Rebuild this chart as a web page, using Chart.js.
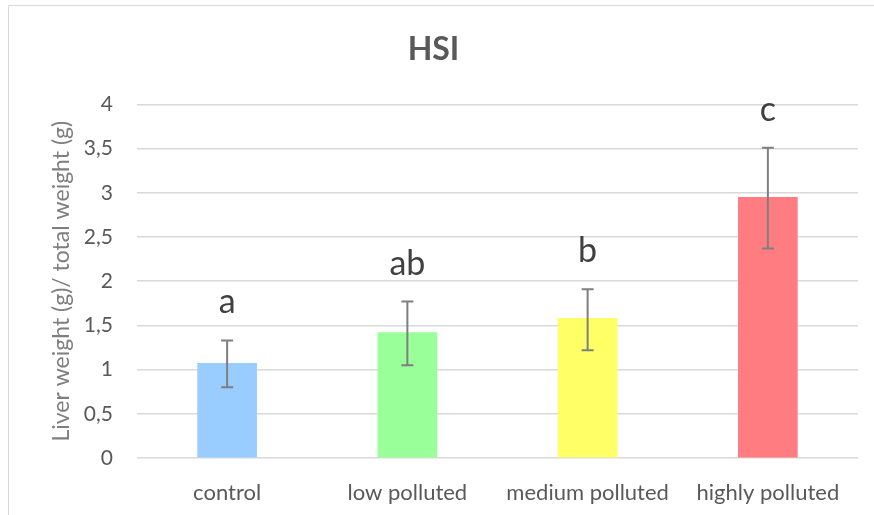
<!DOCTYPE html>
<html>
<head>
<meta charset="utf-8">
<script src="https://cdn.jsdelivr.net/npm/chart.js@4"></script>
<style>
  html, body { margin: 0; padding: 0; background: #fff; overflow: hidden; }
  #box { position: absolute; left: 8px; top: 5px; width: 876px; height: 520px; border: 1px solid #d9d9d9; }
</style>
</head>
<body>
<div id="box"><canvas id="hsi" width="876" height="520"></canvas></div>
<script>
var groups = ["control", "low polluted", "medium polluted", "highly polluted"];
var hsi = [1.07, 1.42, 1.58, 2.95];
var errLow = [0.80, 1.05, 1.22, 2.37];
var errHigh = [1.33, 1.77, 1.91, 3.51];
var letters = ["a", "ab", "b", "c"];
var colors = ["#99ccff", "#99ff99", "#ffff66", "#ff7c80"];

var fnt = "Lato, 'Open Sans', sans-serif";

// error bars + significance letters
var extras = {
  id: 'extras',
  afterDatasetsDraw: function(chart) {
    var ctx = chart.ctx, y = chart.scales.y;
    var bars = chart.getDatasetMeta(0).data;
    ctx.save();
    bars.forEach(function(b, i) {
      var top = y.getPixelForValue(errHigh[i]);
      var bot = y.getPixelForValue(errLow[i]);
      ctx.strokeStyle = '#7f7f7f';
      ctx.lineWidth = 2;
      ctx.beginPath();
      ctx.moveTo(b.x, top); ctx.lineTo(b.x, bot);
      ctx.moveTo(b.x - 6, top); ctx.lineTo(b.x + 6, top);
      ctx.moveTo(b.x - 6, bot); ctx.lineTo(b.x + 6, bot);
      ctx.stroke();
      ctx.fillStyle = '#404040';
      ctx.font = '34px ' + fnt;
      ctx.textAlign = 'center';
      ctx.textBaseline = 'alphabetic';
      ctx.fillText(letters[i], b.x, top - 27);
    });
    ctx.restore();
  }
};

new Chart(document.getElementById("hsi"), {
  type: 'bar',
  data: {
    labels: groups,
    datasets: [{
      data: hsi,
      backgroundColor: colors,
      barThickness: 59
    }]
  },
  options: {
    responsive: false,
    animation: false,
    layout: { padding: { left: 0, right: 27, top: 0, bottom: 0 } },
    plugins: {
      legend: { display: false },
      tooltip: { enabled: false },
      title: {
        display: true,
        text: 'HSI',
        color: '#595959',
        font: { family: fnt, size: 32, weight: 'bold' },
        padding: { top: 24, bottom: 36 }
      }
    },
    scales: {
      x: {
        grid: { display: false },
        border: { display: false },
        ticks: { color: '#595959', font: { family: fnt, size: 22 }, padding: 14, maxRotation: 0 },
        afterFit: function(s) { s.height = 68; }
      },
      y: {
        min: 0, max: 4,
        grid: { color: '#d9d9d9', lineWidth: 1.5, drawTicks: false },
        border: { display: false },
        ticks: {
          stepSize: 0.5,
          color: '#595959',
          padding: 24,
          font: { family: fnt, size: 21 },
          callback: function(v) { return String(v).replace('.', ','); }
        },
        title: {
          display: true,
          text: 'Liver weight (g)/ total weight (g)',
          color: '#7f7f7f',
          font: { family: fnt, size: 23 },
          padding: { top: 39, bottom: 0 }
        },
        afterFit: function(s) { s.width = 128; }
      }
    }
  },
  plugins: [extras]
});
</script>
</body>
</html>
